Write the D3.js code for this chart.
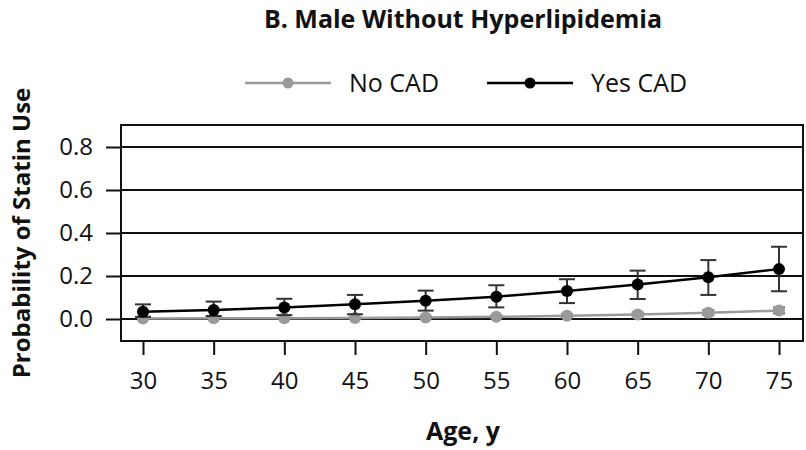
<html>
<head>
  <script src="https://d3js.org/d3.v7.min.js"></script>
  <style>
    body { margin: 0; background: #fff; }
    text { font-family: "Open Sans", "Noto Sans", sans-serif; }
  </style>
</head>
<body>
  <svg id="chart" width="806" height="450"></svg>
  <script>
    // values
    var ages = [30, 35, 40, 45, 50, 55, 60, 65, 70, 75];
    var noCad   = [0.002, 0.003, 0.004, 0.005, 0.007, 0.010, 0.015, 0.021, 0.029, 0.039];
    var noCadLo = [0.000, 0.001, 0.001, 0.002, 0.003, 0.005, 0.009, 0.013, 0.018, 0.026];
    var noCadHi = [0.005, 0.006, 0.007, 0.009, 0.012, 0.016, 0.022, 0.030, 0.041, 0.054];
    var yesCad   = [0.034, 0.042, 0.054, 0.069, 0.085, 0.104, 0.130, 0.160, 0.194, 0.232];
    var yesCadLo = [0.010, 0.014, 0.018, 0.022, 0.039, 0.054, 0.074, 0.093, 0.112, 0.129];
    var yesCadHi = [0.068, 0.081, 0.094, 0.112, 0.132, 0.157, 0.185, 0.225, 0.274, 0.336];
    var yTicks = [0, 0.2, 0.4, 0.6, 0.8];
    var seriesNames = ["No CAD", "Yes CAD"];

    var svg = d3.select("#chart");
    var box = {left: 121, right: 803, top: 125, bottom: 341};

    var x = d3.scaleLinear().domain([30, 75]).range([143, 779]);
    var y = d3.scaleLinear().domain([0, 0.8]).range([319, 147]);

    // gridlines
    svg.append("g").selectAll("line").data(yTicks).enter().append("line")
        .attr("x1", box.left).attr("x2", box.right)
        .attr("y1", d => y(d)).attr("y2", d => y(d))
        .attr("stroke", "#111").attr("stroke-width", 2);

    // box
    svg.append("rect")
        .attr("x", box.left).attr("y", box.top)
        .attr("width", box.right - box.left).attr("height", box.bottom - box.top)
        .attr("fill", "none").attr("stroke", "#111").attr("stroke-width", 2);

    // y axis
    var yAxis = svg.append("g")
        .attr("transform", "translate(" + box.left + ",0)")
        .call(d3.axisLeft(y).tickValues(yTicks).tickFormat(d3.format(".1f")).tickSize(15).tickPadding(13));
    yAxis.select(".domain").remove();
    yAxis.selectAll(".tick line").attr("stroke", "#111").attr("stroke-width", 2);
    yAxis.selectAll(".tick text").attr("font-size", 24).attr("fill", "#111")
        .style("font-family", "'Open Sans', sans-serif");

    // x axis
    var xAxis = svg.append("g")
        .attr("transform", "translate(0," + box.bottom + ")")
        .call(d3.axisBottom(x).tickValues(ages).tickSize(14).tickPadding(17));
    xAxis.select(".domain").remove();
    xAxis.selectAll(".tick line").attr("stroke", "#111").attr("stroke-width", 2);
    xAxis.selectAll(".tick text").attr("font-size", 24).attr("fill", "#111")
        .style("font-family", "'Open Sans', sans-serif");

    function drawSeries(vals, lo, hi, color, errColor, cap) {
      var pts = ages.map((a, i) => ({a: a, v: vals[i], lo: lo[i], hi: hi[i]}));
      var g = svg.append("g");
      g.append("path").datum(pts)
          .attr("fill", "none").attr("stroke", color).attr("stroke-width", 2.5)
          .attr("d", d3.line().x(d => x(d.a)).y(d => y(d.v)));
      var eb = g.selectAll(".err").data(pts).enter().append("g").attr("stroke", errColor).attr("stroke-width", 2);
      eb.append("line").attr("x1", d => x(d.a)).attr("x2", d => x(d.a))
          .attr("y1", d => y(d.lo)).attr("y2", d => y(d.hi));
      eb.append("line").attr("x1", d => x(d.a) - cap).attr("x2", d => x(d.a) + cap)
          .attr("y1", d => y(d.lo)).attr("y2", d => y(d.lo));
      eb.append("line").attr("x1", d => x(d.a) - cap).attr("x2", d => x(d.a) + cap)
          .attr("y1", d => y(d.hi)).attr("y2", d => y(d.hi));
      g.selectAll("circle").data(pts).enter().append("circle")
          .attr("cx", d => x(d.a)).attr("cy", d => y(d.v)).attr("r", 6).attr("fill", color);
    }
    drawSeries(noCad, noCadLo, noCadHi, "#9a9a9a", "#666", 6);
    drawSeries(yesCad, yesCadLo, yesCadHi, "#000", "#333", 8);

    // legend
    var legendX = [245, 487], colors = ["#9a9a9a", "#000"];
    seriesNames.forEach(function(name, i) {
      var lg = svg.append("g").attr("transform", "translate(" + legendX[i] + ",83)");
      lg.append("line").attr("x1", 0).attr("x2", 86).attr("stroke", colors[i]).attr("stroke-width", 2.5);
      lg.append("circle").attr("cx", 43).attr("r", 5.5).attr("fill", colors[i]);
      lg.append("text").attr("x", 104).attr("y", 9).attr("font-size", 25).attr("fill", "#111").text(name);
    });

    // titles
    svg.append("text").attr("x", 463).attr("y", 28).attr("text-anchor", "middle")
        .attr("font-size", 25).attr("font-weight", "bold").attr("fill", "#111")
        .text("B. Male Without Hyperlipidemia");
    svg.append("text").attr("x", 463).attr("y", 440).attr("text-anchor", "middle")
        .attr("font-size", 25).attr("font-weight", "bold").attr("fill", "#111")
        .text("Age, y");
    svg.append("text").attr("transform", "translate(30,233) rotate(-90)").attr("text-anchor", "middle")
        .attr("font-size", 24).attr("font-weight", "bold").attr("fill", "#111")
        .text("Probability of Statin Use");
  </script>
</body>
</html>
